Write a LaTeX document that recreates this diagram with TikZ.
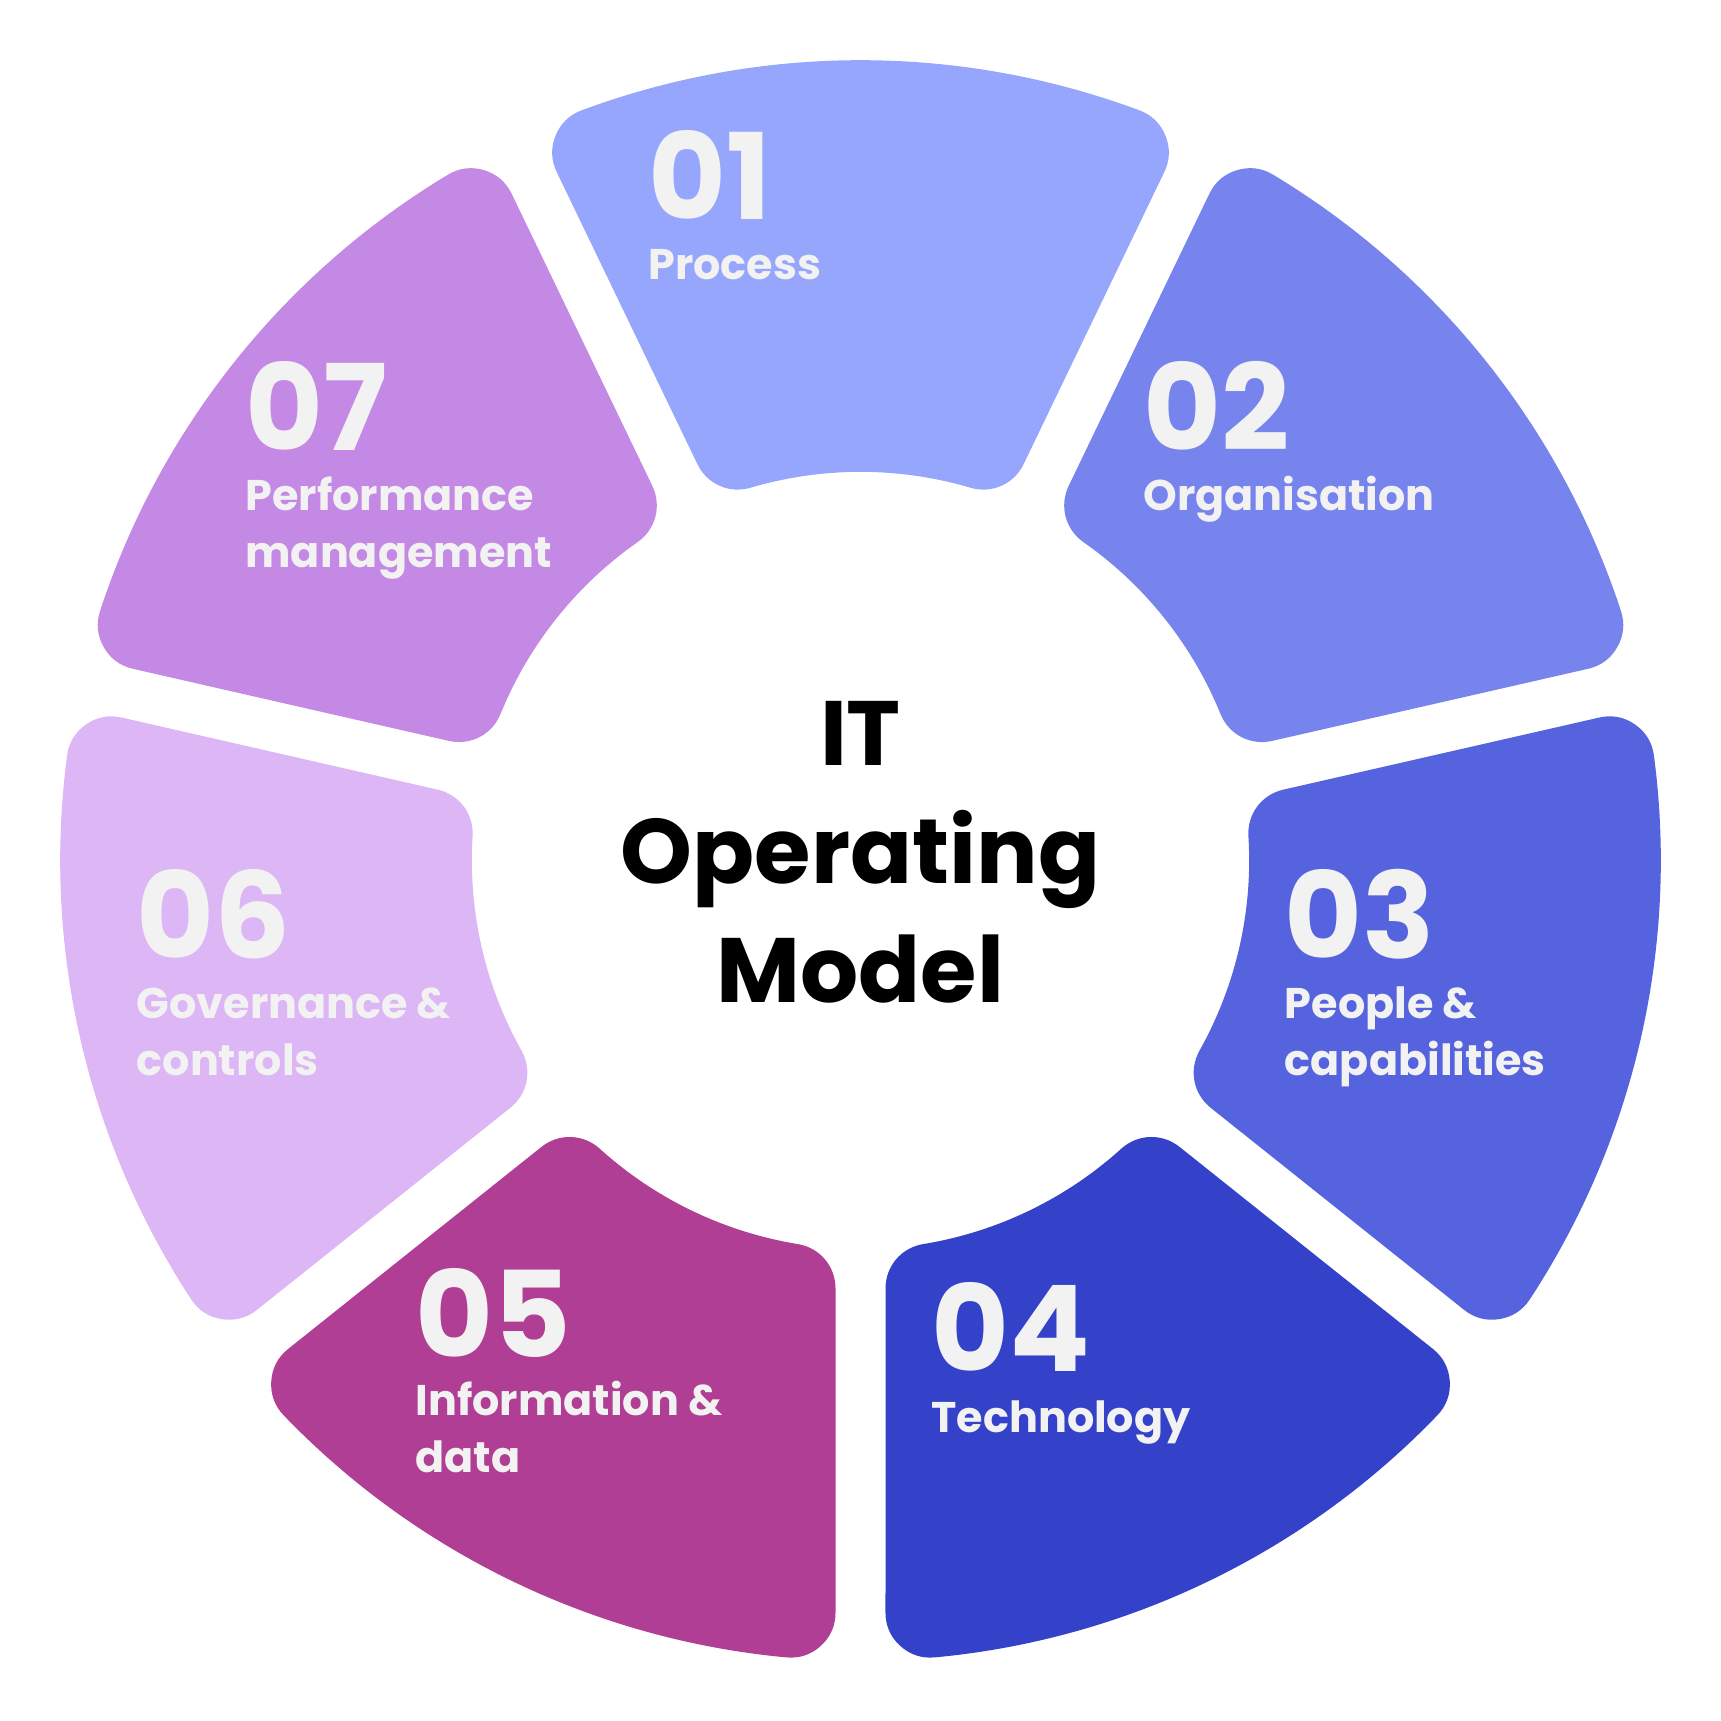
\documentclass[tikz,border=0pt]{standalone}
\usepackage{fontspec}
\setmainfont{Poppins}
\definecolor{c1}{HTML}{97A6FD}
\definecolor{c2}{HTML}{7784EE}
\definecolor{c3}{HTML}{5563DE}
\definecolor{c4}{HTML}{3342C9}
\definecolor{c5}{HTML}{B03E94}
\definecolor{c6}{HTML}{DDB6F5}
\definecolor{c7}{HTML}{C389E4}
\definecolor{tx}{HTML}{F2F2F2}
\begin{document}
\begin{tikzpicture}[x=0.010976cm,y=-0.010976cm,
  num/.style={anchor=base west,inner sep=0,text=tx,font=\fontsize{34}{36}\selectfont\bfseries},
  lab/.style={anchor=base west,inner sep=0,text=tx,font=\fontsize{12.2}{14}\selectfont\bfseries},
  ctr/.style={anchor=base,inner sep=0,font=\fontsize{26}{28}\selectfont\bfseries}]
\useasboundingbox (0,0) rectangle (1568,1568);
\begin{scope}[shift={(784,784)},x=1cm,y=1cm]
\def\rr{0.45}
\pgfmathsetmacro{\Ro}{8.0-\rr}
\pgfmathsetmacro{\Ri}{3.885+\rr}
\pgfmathsetmacro{\dO}{asin((0.25+\rr)/\Ro)}
\pgfmathsetmacro{\dI}{asin((0.25+\rr)/\Ri)}
\foreach \k/\c in {0/c1,1/c2,2/c3,3/c4,4/c5,5/c6,6/c7}{
  \pgfmathsetmacro{\aA}{90-\k*51.42857+25.71429}
  \pgfmathsetmacro{\aB}{90-\k*51.42857-25.71429}
  \filldraw[\c,line width=0.9cm,line join=round] (\aA-\dO:\Ro) arc[start angle=\aA-\dO,end angle=\aB+\dO,radius=\Ro]
    -- (\aB+\dI:\Ri) arc[start angle=\aB+\dI,end angle=\aA-\dI,radius=\Ri] -- cycle;
}
\end{scope}
\node[num] (n1) at (590,200) {01};
\node[lab] (l1) at (590,255) {Process};
\node[num] (n2) at (1041,410) {02};
\node[lab] (l2) at (1041,465) {Organisation};
\node[num] (n3) at (1170,873) {03};
\node[lab] (l3a) at (1170,928) {People \&};
\node[lab] (l3b) at (1170,980) {capabilities};
\node[num] (n4) at (848,1250) {04};
\node[lab] (l4) at (848,1305) {Technology};
\node[num] (n5) at (378,1237) {05};
\node[lab] (l5a) at (378,1290) {Information \&};
\node[lab] (l5b) at (378,1342) {data};
\node[num] (n6) at (124,873) {06};
\node[lab] (l6a) at (124,928) {Governance \&};
\node[lab] (l6b) at (124,980) {controls};
\node[num] (n7) at (223,410) {07};
\node[lab] (l7a) at (223,465) {Performance};
\node[lab] (l7b) at (223,517) {management};
\node[ctr] (t1) at (784,697) {IT};
\node[ctr] (t2) at (784,805) {Operating};
\node[ctr] (t3) at (784,913) {Model};
\end{tikzpicture}
\end{document}
